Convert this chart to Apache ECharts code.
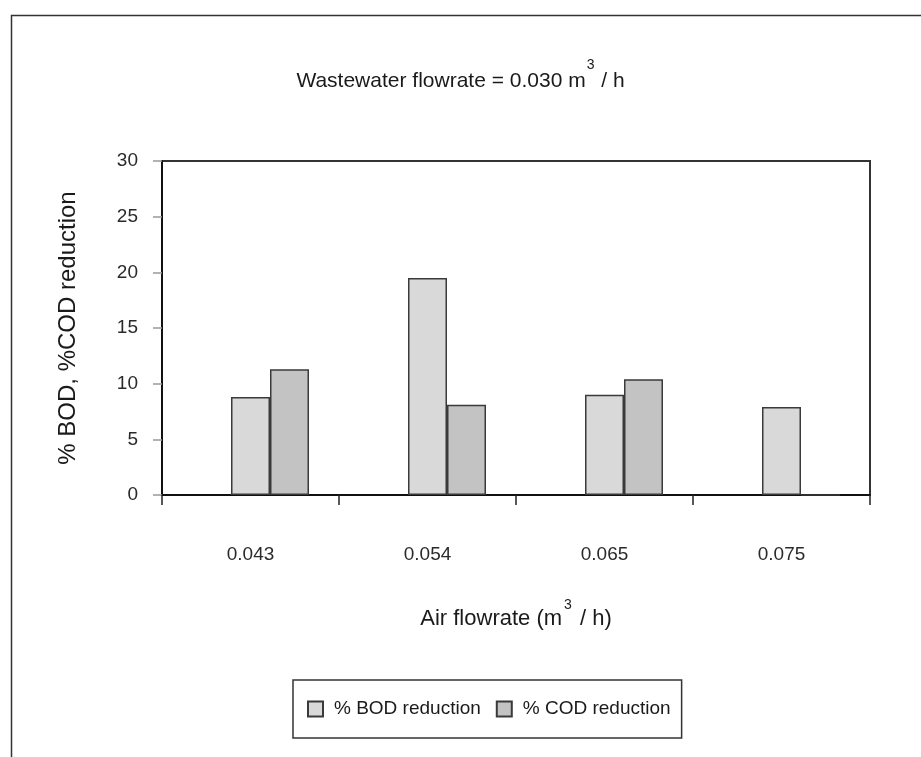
<!DOCTYPE html>
<html>
<head>
<meta charset="utf-8">
<script src="https://cdn.jsdelivr.net/npm/echarts@6/dist/echarts.min.js"></script>
<style>
  html, body { margin: 0; padding: 0; background: #ffffff; }
  #chart { width: 921px; height: 757px; }
</style>
</head>
<body>
<div id="chart"></div>
<script>
// Air flowrate categories (m3/h)
const categories = ['0.043', '0.054', '0.065', '0.075'];
// Percent reduction per air flowrate
const bodReduction = [8.8, 19.5, 9.0, 7.9];
const codReduction = [11.3, 8.1, 10.4, 0];
// Value axis range
const yMin = 0;
const yMax = 30;
const yStep = 5;

const FONT = '"Liberation Sans", Arial, sans-serif';
const INK = '#1a1a1a';

const chart = echarts.init(document.getElementById('chart'), null, { renderer: 'canvas' });

const barBorder = { borderColor: '#3a3a3a', borderWidth: 1.5 };

chart.setOption({
  backgroundColor: '#ffffff',
  animation: false,
  title: {
    text: 'Wastewater flowrate = 0.030 m{s|3} / h',
    left: 'center',
    top: 53,
    textStyle: {
      fontFamily: FONT,
      fontSize: 21,
      fontWeight: 'normal',
      color: INK,
      lineHeight: 46,
      rich: {
        s: { fontFamily: FONT, fontSize: 14, color: INK, lineHeight: 14, verticalAlign: 'top', padding: [0, 1, 0, 1] }
      }
    }
  },
  legend: {
    data: ['% BOD reduction', '% COD reduction'],
    left: 293,
    top: 680,
    orient: 'horizontal',
    padding: [19, 11, 19, 14],
    itemWidth: 15,
    itemHeight: 15,
    itemGap: 15,
    icon: 'rect',
    borderColor: '#333333',
    borderWidth: 1.5,
    textStyle: { fontFamily: FONT, fontSize: 19, color: INK, lineHeight: 20, padding: [0, 0, 0, 6] }
  },
  grid: {
    left: 162,
    top: 161,
    right: 51,
    bottom: 262,
    show: true,
    borderColor: '#333333',
    borderWidth: 2,
    backgroundColor: 'transparent'
  },
  xAxis: {
    type: 'category',
    data: categories,
    boundaryGap: true,
    name: 'Air flowrate (m{s|3} / h)',
    nameLocation: 'middle',
    nameGap: 103,
    nameTextStyle: {
      fontFamily: FONT,
      fontSize: 22,
      color: INK,
      lineHeight: 42,
      verticalAlign: 'top',
      rich: {
        s: { fontFamily: FONT, fontSize: 14, color: INK, lineHeight: 14, verticalAlign: 'top', padding: [0, 2, 0, 2] }
      }
    },
    axisLine: { show: true, lineStyle: { color: '#111111', width: 2 } },
    axisTick: { show: true, inside: false, length: 10, lineStyle: { color: '#222222', width: 1.5 } },
    axisLabel: { fontFamily: FONT, fontSize: 19, color: '#2a2a2a', margin: 50 },
    splitLine: { show: false }
  },
  yAxis: {
    type: 'value',
    min: yMin,
    max: yMax,
    interval: yStep,
    name: '% BOD, %COD reduction',
    nameLocation: 'middle',
    nameRotate: 90,
    nameGap: 82,
    nameTextStyle: { fontFamily: FONT, fontSize: 24, color: INK },
    axisLine: { show: true, lineStyle: { color: '#111111', width: 2 } },
    axisTick: { show: true, inside: false, length: 9, lineStyle: { color: '#999999', width: 1.5 } },
    axisLabel: { fontFamily: FONT, fontSize: 19, color: '#2a2a2a', margin: 24 },
    splitLine: { show: false }
  },
  series: [
    {
      // empty leading slot in each category group
      name: 'gap',
      type: 'bar',
      data: [],
      barWidth: 39,
      barGap: '0%'
    },
    {
      name: '% BOD reduction',
      type: 'bar',
      data: bodReduction,
      barWidth: 39,
      barGap: '0%',
      itemStyle: Object.assign({ color: '#d9d9d9' }, barBorder)
    },
    {
      name: '% COD reduction',
      type: 'bar',
      data: codReduction,
      barWidth: 39,
      barGap: '0%',
      itemStyle: Object.assign({ color: '#c3c3c3' }, barBorder)
    }
  ],
  graphic: [
    {
      type: 'rect',
      left: 9,
      top: 13,
      shape: { width: 1000, height: 900 },
      style: { fill: 'none', stroke: '#333333', lineWidth: 1.5 },
      silent: true
    }
  ]
});
</script>
</body>
</html>
